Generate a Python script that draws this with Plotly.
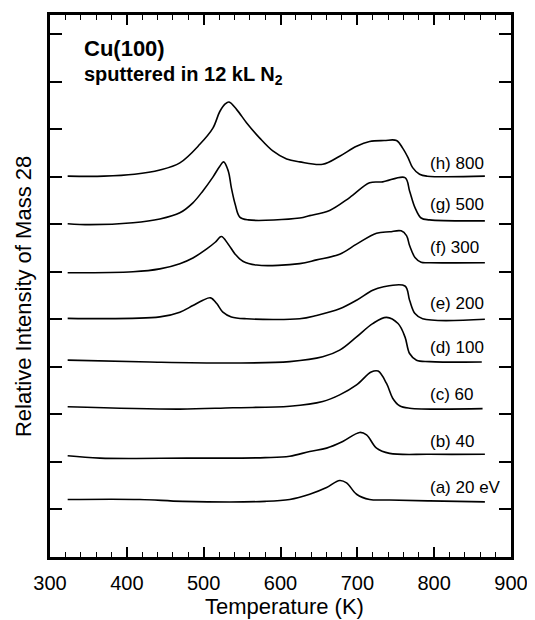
import plotly.graph_objects as go

# Temperature (K) and relative intensity (offset units; y ticks at integers)
T_a = [323, 417, 473, 580, 612, 638, 660, 677, 686, 699, 716, 742, 794, 866]
I_a = [1.21, 1.21, 1.17, 1.17, 1.21, 1.32, 1.46, 1.61, 1.56, 1.32, 1.21, 1.20, 1.18, 1.16]

T_b = [323, 365, 478, 580, 612, 638, 660, 681, 703, 712, 725, 742, 794, 866]
I_b = [2.13, 2.08, 2.08, 2.09, 2.12, 2.22, 2.29, 2.43, 2.62, 2.57, 2.29, 2.18, 2.16, 2.16]

T_c = [323, 469, 538, 612, 655, 677, 699, 718, 727, 738, 746, 755, 768, 863]
I_c = [3.16, 3.11, 3.14, 3.17, 3.27, 3.41, 3.62, 3.89, 3.91, 3.65, 3.34, 3.18, 3.13, 3.12]

T_d = [323, 430, 538, 612, 655, 677, 699, 720, 738, 753, 762, 768, 777, 794, 862]
I_d = [4.14, 4.10, 4.08, 4.11, 4.21, 4.35, 4.63, 4.91, 5.04, 4.91, 4.63, 4.28, 4.14, 4.11, 4.10]

T_e = [323, 443, 469, 486, 499, 509, 517, 525, 536, 556, 625, 647, 677, 699, 720, 733, 762, 768, 775, 785, 866]
I_e = [5.02, 5.05, 5.15, 5.29, 5.40, 5.45, 5.33, 5.15, 5.05, 5.01, 5.01, 5.08, 5.22, 5.40, 5.61, 5.68, 5.70, 5.40, 5.12, 5.01, 5.00]

T_f = [323, 408, 443, 469, 486, 504, 515, 523, 532, 541, 551, 569, 625, 647, 677, 699, 725, 742, 757, 764, 768, 775, 783, 794, 866]
I_f = [5.98, 6.00, 6.06, 6.17, 6.29, 6.48, 6.62, 6.74, 6.58, 6.37, 6.22, 6.14, 6.17, 6.25, 6.37, 6.58, 6.81, 6.84, 6.86, 6.76, 6.55, 6.30, 6.20, 6.19, 6.19]

T_g = [323, 352, 408, 443, 469, 486, 499, 512, 521, 526, 532, 536, 541, 547, 558, 625, 638, 664, 690, 716, 733, 762, 768, 775, 783, 794, 866]
I_g = [7.01, 6.99, 7.03, 7.11, 7.24, 7.45, 7.70, 7.99, 8.22, 8.31, 8.12, 7.77, 7.42, 7.15, 7.09, 7.13, 7.18, 7.29, 7.56, 7.87, 7.89, 7.98, 7.70, 7.35, 7.13, 7.09, 7.07]

T_h = [323, 370, 410, 443, 469, 495, 512, 521, 528, 533, 543, 556, 573, 590, 608, 625, 655, 677, 699, 716, 735, 751, 759, 766, 772, 781, 791, 866]
I_h = [8.01, 8.01, 8.05, 8.14, 8.29, 8.68, 9.02, 9.37, 9.53, 9.57, 9.41, 9.13, 8.81, 8.54, 8.37, 8.31, 8.26, 8.43, 8.64, 8.74, 8.76, 8.76, 8.60, 8.40, 8.19, 8.05, 8.01, 8.01]

curve_T = [T_a, T_b, T_c, T_d, T_e, T_f, T_g, T_h]
curve_I = [I_a, I_b, I_c, I_d, I_e, I_f, I_g, I_h]

labels = ["(a) 20 eV", "(b) 40", "(c) 60", "(d) 100", "(e) 200", "(f) 300", "(g) 500", "(h) 800"]
label_T = [792, 792, 792, 792, 792, 792, 792, 792]
label_I = [1.46, 2.43, 3.41, 4.41, 5.33, 6.51, 7.41, 8.28]

x_ticks = [300, 400, 500, 600, 700, 800, 900]
y_ticks = [1, 2, 3, 4, 5, 6, 7, 8, 9, 10, 11]
X_RANGE = [300, 900]
Y_RANGE = [0, 11.40]

FONT = "Arial, Liberation Sans, Helvetica, sans-serif"

fig = go.Figure()
for T, I in zip(curve_T, curve_I):
    fig.add_trace(go.Scatter(x=T, y=I, mode="lines",
                             line=dict(color="black", width=1.6, shape="spline", smoothing=1.0),
                             showlegend=False, hoverinfo="skip"))

for txt, tx, ty in zip(labels, label_T, label_I):
    fig.add_annotation(x=tx, y=ty, text=txt, showarrow=False, xanchor="left", yanchor="middle",
                       font=dict(family=FONT, size=17, color="black"))

fig.add_annotation(xref="paper", yref="paper", x=0.069, y=0.938, text="<b>Cu(100)</b>",
                   showarrow=False, xanchor="left", yanchor="middle",
                   font=dict(family=FONT, size=22, color="black"))
fig.add_annotation(xref="paper", yref="paper", x=0.069, y=0.889,
                   text="<b>sputtered in 12 kL N<sub>2</sub></b>",
                   showarrow=False, xanchor="left", yanchor="middle",
                   font=dict(family=FONT, size=20, color="black"))

# axis titles
fig.add_annotation(xref="paper", yref="paper", x=0.509, y=-0.092, text="Temperature (K)",
                   showarrow=False, xanchor="center", yanchor="middle",
                   font=dict(family=FONT, size=22, color="black"))
fig.add_annotation(xref="paper", yref="paper", x=-0.056, y=0.480,
                   text="Relative Intensity of Mass 28", textangle=-90,
                   showarrow=False, xanchor="center", yanchor="middle",
                   font=dict(family=FONT, size=22, color="black"))

common_x = dict(range=X_RANGE, tickvals=x_ticks,
                ticks="inside", ticklen=10, tickwidth=1.5, tickcolor="black",
                minor=dict(dtick=20, ticks="inside", ticklen=5, tickwidth=1.2, tickcolor="black"),
                showgrid=False, zeroline=False)
common_y = dict(range=Y_RANGE, tickvals=y_ticks, showticklabels=False,
                ticks="inside", ticklen=12, tickwidth=1.5, tickcolor="black",
                showgrid=False, zeroline=False)

fig.update_layout(
    width=527, height=612,
    margin=dict(l=42, r=24, t=4, b=63),
    paper_bgcolor="white", plot_bgcolor="white",
    xaxis=dict(**common_x, ticktext=[str(v) for v in x_ticks],
               showline=True, linewidth=3, linecolor="black", mirror="allticks",
               ticklabelstandoff=6,
               tickfont=dict(family=FONT, size=20, color="black")),
    yaxis=dict(**common_y, showline=True, linewidth=3, linecolor="black", mirror=True),
    xaxis2=dict(**common_x, overlaying="x", side="top", anchor="y", showticklabels=False,
                showline=False),
    yaxis2=dict(**common_y, overlaying="y", side="right", anchor="x", showline=False),
)

# invisible helper trace so the mirrored tick axes are drawn
fig.add_trace(go.Scatter(x=X_RANGE, y=Y_RANGE, xaxis="x2", yaxis="y2", mode="lines",
                         line=dict(width=0), opacity=0, showlegend=False, hoverinfo="skip"))

fig.write_html("out.html")
